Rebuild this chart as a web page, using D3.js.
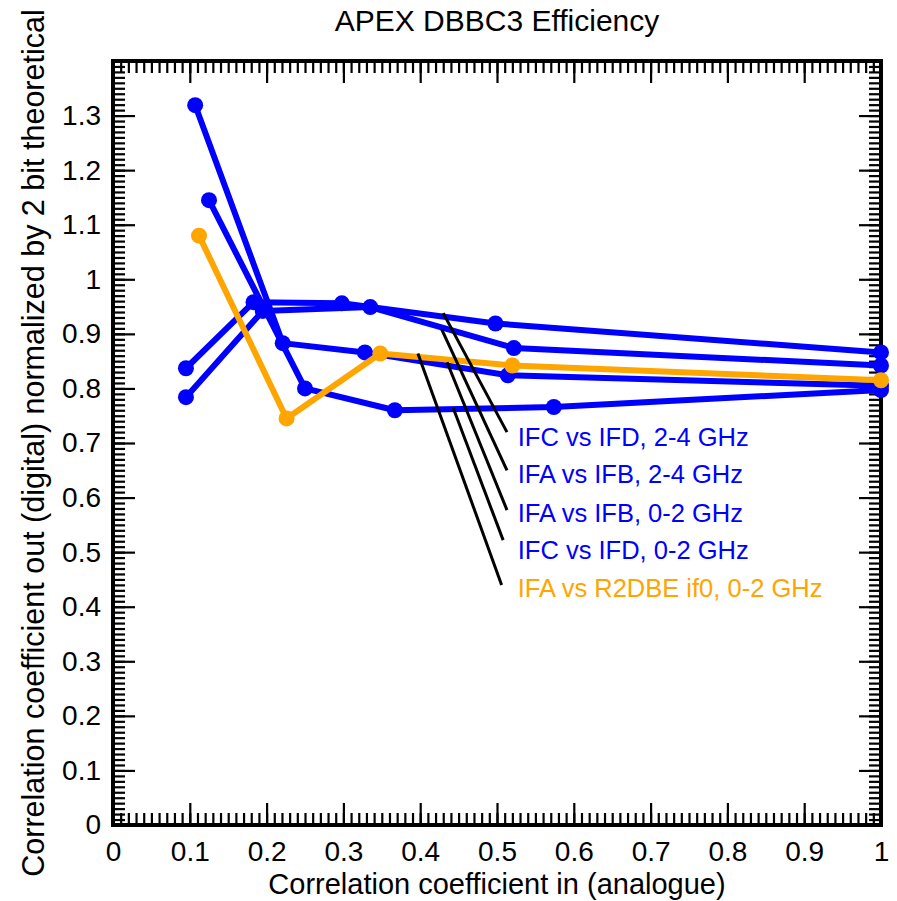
<!DOCTYPE html>
<html>
<head>
<meta charset="utf-8">
<script src="https://cdn.jsdelivr.net/npm/d3@7"></script>
<style>
  body { margin: 0; background: #fff; }
  svg text { font-family: "Liberation Sans", Arial, Helvetica, sans-serif; }
</style>
</head>
<body>
<div id="chart"></div>
<script>
// series, in legend order (top to bottom)
var seriesNames = ["IFC vs IFD, 2-4 GHz", "IFA vs IFB, 2-4 GHz", "IFA vs IFB, 0-2 GHz", "IFC vs IFD, 0-2 GHz", "IFA vs R2DBE if0, 0-2 GHz"];
var seriesColors = ["#0000ff", "#0000ff", "#0000ff", "#0000ff", "#ffa500"];

var ifcIfd24X = [0.095, 0.183, 0.298, 0.498, 1.0];
var ifcIfd24Y = [0.837, 0.958, 0.956, 0.919, 0.866];
var ifaIfb24X = [0.095, 0.195, 0.335, 0.522, 1.0];
var ifaIfb24Y = [0.784, 0.942, 0.949, 0.874, 0.842];
var ifaIfb02X = [0.107, 0.221, 0.328, 0.514, 1.0];
var ifaIfb02Y = [1.319, 0.883, 0.866, 0.824, 0.805];
var ifcIfd02X = [0.125, 0.250, 0.367, 0.574, 1.0];
var ifcIfd02Y = [1.145, 0.800, 0.760, 0.766, 0.797];
var r2dbeX = [0.112, 0.226, 0.348, 0.520, 1.0];
var r2dbeY = [1.080, 0.745, 0.864, 0.842, 0.815];

// leader lines: from a point on the curve to the label (data units)
var leaderFromX = [0.430, 0.428, 0.435, 0.443, 0.397];
var leaderFromY = [0.938, 0.908, 0.848, 0.764, 0.864];
var leaderToX = [0.513, 0.513, 0.513, 0.508, 0.506];
var leaderToY = [0.720, 0.650, 0.577, 0.522, 0.440];
var labelX = 0.527;
var labelY = [0.694, 0.626, 0.555, 0.487, 0.418];

var xMajor = d3.range(0, 11).map(function(i) { return i / 10; });
var yMajor = d3.range(0, 14).map(function(i) { return i / 10; });
var xMinor = d3.range(0, 101).map(function(i) { return i / 100; });
var yMinor = d3.range(0, 141).map(function(i) { return i / 100; });

var width = 897, height = 901;
var plotL = 113, plotR = 881, plotT = 61, plotB = 825;

var x = d3.scaleLinear().domain([0, 1]).range([plotL, plotR]);
var y = d3.scaleLinear().domain([0, 1.4]).range([plotB, plotT]);

var svg = d3.select('#chart').append('svg')
    .attr('width', width).attr('height', height);

function fmt(d) { return d === 0 ? '0' : d === 1 ? '1' : d3.format('.1f')(d); }

// minor ticks on all four sides
svg.append('g').attr('transform', 'translate(0,' + plotB + ')')
    .call(d3.axisBottom(x).tickValues(xMinor).tickSize(-12).tickFormat(''));
svg.append('g').attr('transform', 'translate(0,' + plotT + ')')
    .call(d3.axisTop(x).tickValues(xMinor).tickSize(-12).tickFormat(''));
svg.append('g').attr('transform', 'translate(' + plotL + ',0)')
    .call(d3.axisLeft(y).tickValues(yMinor).tickSize(-12).tickFormat(''));
svg.append('g').attr('transform', 'translate(' + plotR + ',0)')
    .call(d3.axisRight(y).tickValues(yMinor).tickSize(-12).tickFormat(''));

// major ticks + labels
var xAxis = svg.append('g').attr('transform', 'translate(0,' + plotB + ')')
    .call(d3.axisBottom(x).tickValues(xMajor).tickSize(-22).tickPadding(16).tickFormat(fmt));
var yAxis = svg.append('g').attr('transform', 'translate(' + plotL + ',0)')
    .call(d3.axisLeft(y).tickValues(yMajor).tickSize(-22).tickPadding(12).tickFormat(fmt));
svg.append('g').attr('transform', 'translate(0,' + plotT + ')')
    .call(d3.axisTop(x).tickValues(xMajor).tickSize(-22).tickFormat(''));
svg.append('g').attr('transform', 'translate(' + plotR + ',0)')
    .call(d3.axisRight(y).tickValues(yMajor).tickSize(-22).tickFormat(''));

svg.selectAll('.domain').remove();
svg.selectAll('.tick line').attr('stroke', '#000').attr('stroke-width', 2.2);
[xAxis, yAxis].forEach(function(a) {
    a.selectAll('text').attr('font-size', 28).attr('fill', '#000')
        .style('font-family', '"Liberation Sans", Arial, sans-serif');
});

// frame
svg.append('rect')
    .attr('x', plotL).attr('y', plotT)
    .attr('width', plotR - plotL).attr('height', plotB - plotT)
    .attr('fill', 'none').attr('stroke', '#000').attr('stroke-width', 4);

// data
var allX = [ifcIfd24X, ifaIfb24X, ifaIfb02X, ifcIfd02X, r2dbeX];
var allY = [ifcIfd24Y, ifaIfb24Y, ifaIfb02Y, ifcIfd02Y, r2dbeY];
var series = allX.map(function(xs, i) {
    return xs.map(function(v, j) { return [v, allY[i][j]]; });
});

var line = d3.line().x(function(d) { return x(d[0]); }).y(function(d) { return y(d[1]); });

series.forEach(function(s, i) {
    var g = svg.append('g');
    g.append('path').attr('d', line(s))
        .attr('fill', 'none').attr('stroke', seriesColors[i])
        .attr('stroke-width', 6).attr('stroke-linejoin', 'round');
    g.selectAll('circle').data(s).enter().append('circle')
        .attr('cx', function(d) { return x(d[0]); })
        .attr('cy', function(d) { return y(d[1]); })
        .attr('r', 8).attr('fill', seriesColors[i]);
});

// leader lines and labels
seriesNames.forEach(function(name, i) {
    svg.append('line')
        .attr('x1', x(leaderFromX[i])).attr('y1', y(leaderFromY[i]))
        .attr('x2', x(leaderToX[i])).attr('y2', y(leaderToY[i]))
        .attr('stroke', '#000').attr('stroke-width', 3);
    svg.append('text')
        .attr('x', x(labelX)).attr('y', y(labelY[i]))
        .attr('font-size', 25.5).attr('fill', seriesColors[i])
        .text(name);
});

// titles
svg.append('text').attr('x', (plotL + plotR) / 2).attr('y', 31)
    .attr('text-anchor', 'middle').attr('font-size', 30).text('APEX DBBC3 Efficiency');
svg.append('text').attr('x', (plotL + plotR) / 2).attr('y', 894)
    .attr('text-anchor', 'middle').attr('font-size', 29).text('Correlation coefficient in (analogue)');
svg.append('text')
    .attr('transform', 'translate(44,' + (plotT + plotB) / 2 + ') rotate(-90)')
    .attr('text-anchor', 'middle').attr('font-size', 30.5)
    .text('Correlation coefficient out (digital) normalized by 2 bit theoretical');
</script>
</body>
</html>
